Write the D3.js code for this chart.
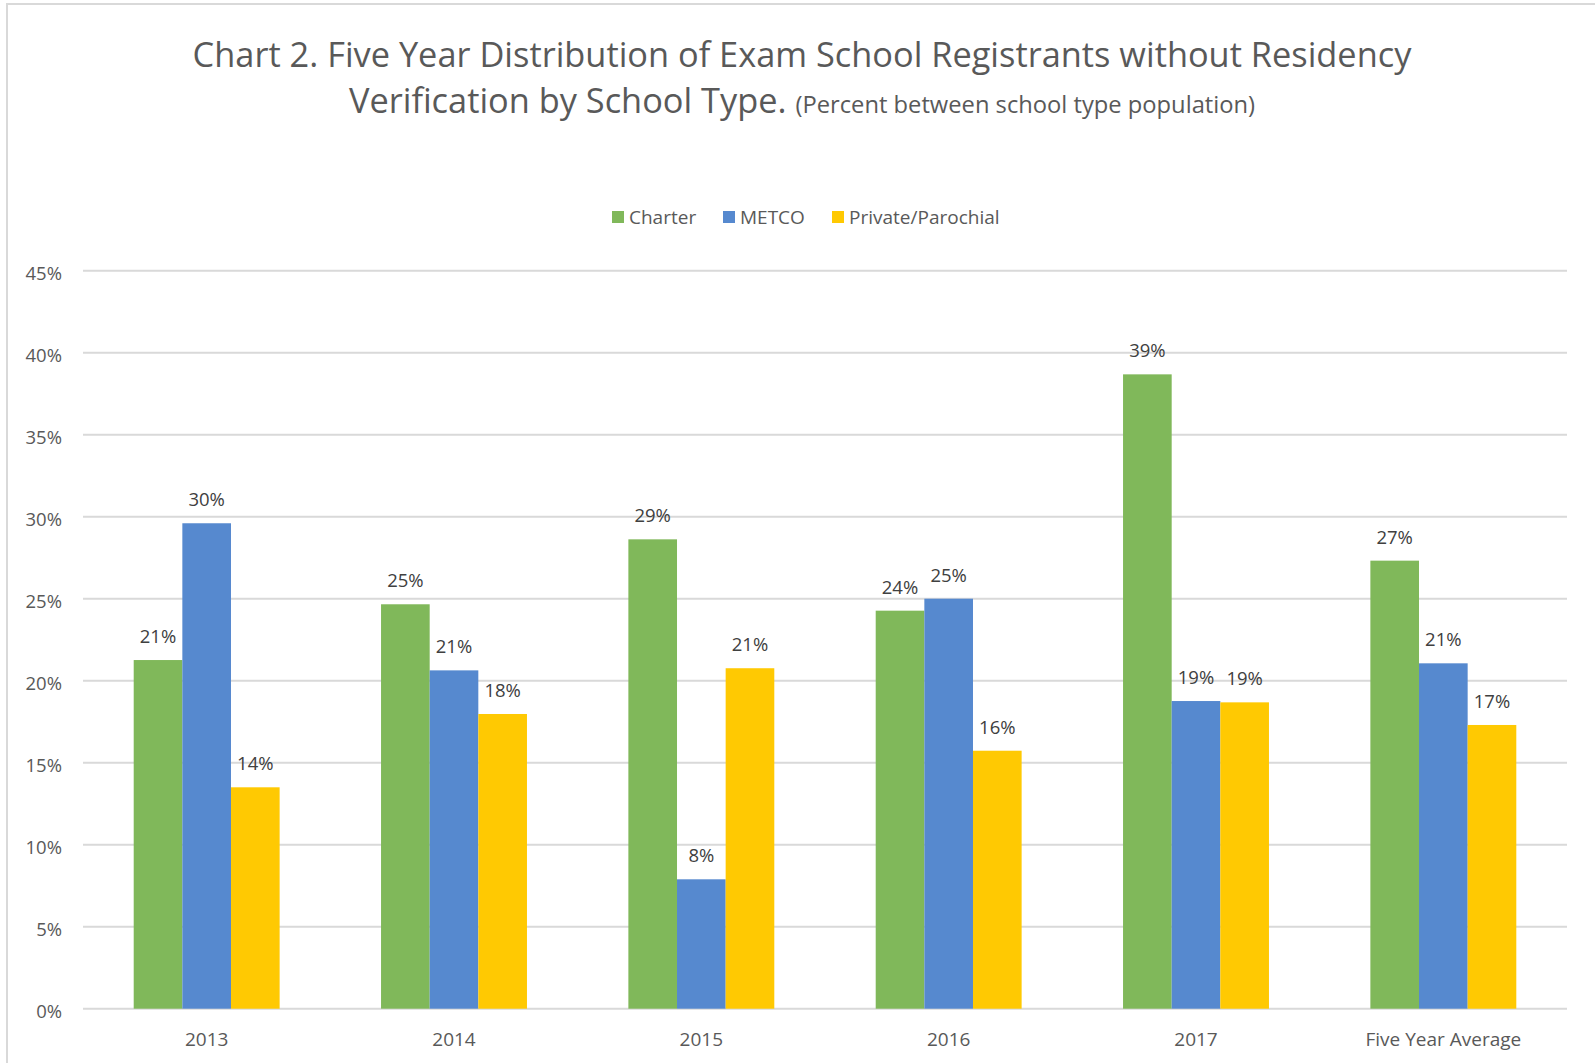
<!DOCTYPE html>
<html>
<head>
    <meta charset="utf-8">
    <title>Chart 2. Exam School Registrants</title>
    <script src="https://d3js.org/d3.v7.min.js"></script>
    <style>
        body { margin: 0; background: #fff; }
        svg text { font-family: "Open Sans", "Liberation Sans", sans-serif; }
    </style>
</head>
<body>
    <svg width="1595" height="1063"></svg>
    <script>
        // data
        var categories = ["2013", "2014", "2015", "2016", "2017", "Five Year Average"];
        var seriesNames = ["Charter", "METCO", "Private/Parochial"];
        var charter = [0.2126, 0.2466, 0.2862, 0.2427, 0.3868, 0.2732];
        var metco = [0.2960, 0.2063, 0.0789, 0.2500, 0.1876, 0.2106];
        var privateParochial = [0.1350, 0.1797, 0.2076, 0.1573, 0.1868, 0.1730];
        var yTicks = [0, 0.05, 0.10, 0.15, 0.20, 0.25, 0.30, 0.35, 0.40, 0.45];
        var colors = ["#80B85A", "#5689CF", "#FFC902"];

        var allSeries = [charter, metco, privateParochial];

        var svg = d3.select("svg"),
            width = +svg.attr("width"),
            height = +svg.attr("height");

        // frame of the chart area (only top and left edges show)
        svg.append("rect")
            .attr("x", 7).attr("y", 4)
            .attr("width", width + 10).attr("height", height + 10)
            .attr("fill", "none")
            .attr("stroke", "#D9D9D9")
            .attr("stroke-width", 2);

        var plot = { left: 83, right: 1567, top: 270.7, bottom: 1008.7 };

        var x0 = d3.scaleBand()
            .domain(categories)
            .range([plot.left, plot.right]);

        var step = x0.step();
        var x1 = d3.scaleBand()
            .domain(seriesNames)
            .range([step * 0.205, step * 0.795]);

        var y = d3.scaleLinear()
            .domain([0, 0.45])
            .range([plot.bottom, plot.top]);

        // gridlines
        svg.append("g")
            .selectAll("line")
            .data(yTicks)
            .enter().append("line")
            .attr("x1", plot.left)
            .attr("x2", plot.right)
            .attr("y1", function(d) { return y(d); })
            .attr("y2", function(d) { return y(d); })
            .attr("stroke", "#D9D9D9")
            .attr("stroke-width", 2);

        // y axis labels
        var yAxis = d3.axisLeft(y)
            .tickValues(yTicks)
            .tickFormat(d3.format(".0%"))
            .tickSize(0)
            .tickPadding(0);

        var yAxisG = svg.append("g")
            .attr("transform", "translate(62,0)")
            .call(yAxis);
        yAxisG.select(".domain").remove();
        yAxisG.selectAll("text")
            .attr("fill", "#595959")
            .style("font-size", "18.5px")
            .attr("dy", "0.5em");

        // x axis labels
        var xAxis = d3.axisBottom(x0).tickSize(0).tickPadding(0);
        var xAxisG = svg.append("g")
            .attr("transform", "translate(0," + plot.bottom + ")")
            .call(xAxis);
        xAxisG.select(".domain").remove();
        xAxisG.selectAll("text")
            .attr("fill", "#595959")
            .style("font-size", "19px")
            .attr("y", 24);

        // bars
        var rows = categories.map(function(c, i) {
            return {
                category: c,
                values: seriesNames.map(function(s, j) {
                    return { series: s, value: allSeries[j][i], idx: j };
                })
            };
        });

        var groups = svg.append("g")
            .selectAll("g")
            .data(rows)
            .enter().append("g")
            .attr("transform", function(d) { return "translate(" + x0(d.category) + ",0)"; });

        groups.selectAll("rect")
            .data(function(d) { return d.values; })
            .enter().append("rect")
            .attr("x", function(d) { return x1(d.series); })
            .attr("width", x1.bandwidth())
            .attr("y", function(d) { return y(d.value); })
            .attr("height", function(d) { return y(0) - y(d.value); })
            .attr("fill", function(d) { return colors[d.idx]; });

        groups.selectAll(".lbl")
            .data(function(d) { return d.values; })
            .enter().append("text")
            .attr("class", "lbl")
            .attr("x", function(d) { return x1(d.series) + x1.bandwidth() / 2; })
            .attr("y", function(d) { return y(d.value) - 17; })
            .attr("text-anchor", "middle")
            .attr("fill", "#404040")
            .style("font-size", "18.5px")
            .text(function(d) { return d3.format(".0%")(d.value); });

        // legend
        var legendX = [612, 723, 832];
        var legend = svg.append("g")
            .selectAll("g")
            .data(seriesNames)
            .enter().append("g")
            .attr("transform", function(d, i) { return "translate(" + legendX[i] + ",211)"; });

        legend.append("rect")
            .attr("width", 12).attr("height", 12)
            .attr("fill", function(d, i) { return colors[i]; });

        legend.append("text")
            .attr("x", 17)
            .attr("y", 13)
            .attr("fill", "#595959")
            .style("font-size", "19px")
            .text(function(d) { return d; });

        // title, fitted to the width of the original lines
        function fitWidth(sel, target) {
            var size = parseFloat(sel.style("font-size"));
            var w = sel.node().getComputedTextLength();
            sel.style("font-size", (size * target / w) + "px");
        }

        var title1 = svg.append("text")
            .attr("x", 802)
            .attr("y", 67)
            .attr("text-anchor", "middle")
            .attr("fill", "#595959")
            .style("font-size", "34px")
            .text("Chart 2. Five Year Distribution of Exam School Registrants without Residency");
        fitWidth(title1, 1219);
        var titleSize = title1.style("font-size");

        var title2 = svg.append("text")
            .attr("x", 802)
            .attr("y", 113)
            .attr("text-anchor", "middle")
            .attr("fill", "#595959");
        title2.append("tspan")
            .style("font-size", titleSize)
            .text("Verification by School Type. ");
        var sub = title2.append("tspan")
            .style("font-size", "21px")
            .text("(Percent between school type population)");
        fitWidth(sub, 460);
    </script>
</body>
</html>
